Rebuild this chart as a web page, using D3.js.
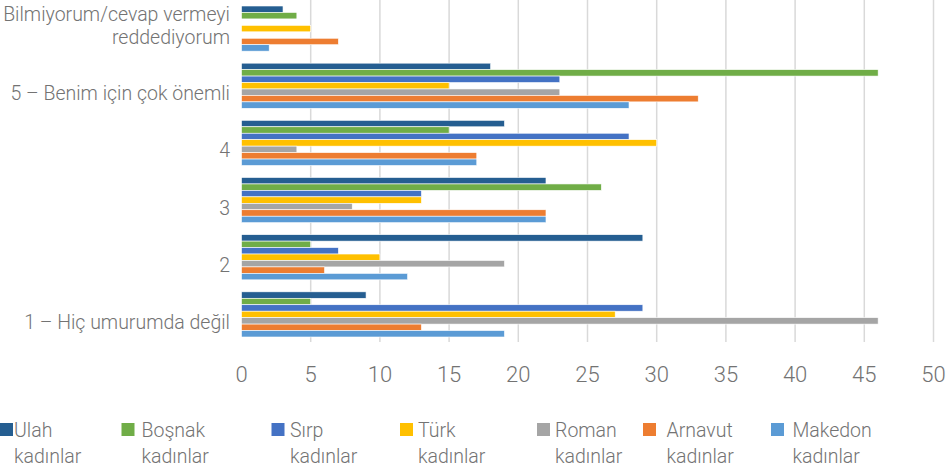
<!DOCTYPE html>
<meta charset="utf-8">
<style>
body { margin: 0; background: #fff; }
text { font-family: Roboto, sans-serif; font-weight: 300; fill: #737373; }
</style>
<svg width="950" height="470"></svg>
<script src="https://d3js.org/d3.v7.min.js"></script>
<script>

// categories, top to bottom
var categories = [
  "Bilmiyorum/cevap vermeyi reddediyorum",
  "5 – Benim için çok önemli",
  "4",
  "3",
  "2",
  "1 – Hiç umurumda değil"
];

var series = ["Ulah kadınlar", "Boşnak kadınlar", "Sırp kadınlar", "Türk kadınlar",
              "Roman kadınlar", "Arnavut kadınlar", "Makedon kadınlar"];

// values per series, same order as categories
var ulah    = [3, 18, 19, 22, 29, 9];
var bosnak  = [4, 46, 15, 26, 5, 5];
var sirp    = [0, 23, 28, 13, 7, 29];
var turk    = [5, 15, 30, 13, 10, 27];
var roman   = [0, 23, 4, 8, 19, 46];
var arnavut = [7, 33, 17, 22, 6, 13];
var makedon = [2, 28, 17, 22, 12, 19];

var xTicks = [0, 5, 10, 15, 20, 25, 30, 35, 40, 45, 50];

var colors = ["#255E91", "#70AD47", "#4472C4", "#FFC000", "#A5A5A5", "#ED7D31", "#5B9BD5"];

var values = [ulah, bosnak, sirp, turk, roman, arnavut, makedon];

var svg = d3.select("svg");

var x = d3.scaleLinear().domain([0, 50]).range([241.5, 933.5]);

var y = d3.scaleBand()
    .domain(categories)
    .range([0, 343])
    .paddingInner(0.21)
    .paddingOuter(0.105);

var ySub = d3.scaleBand()
    .domain(series)
    .range([0, y.bandwidth()]);

/************* GRID ***************/
svg.append("g")
  .selectAll("line")
  .data(xTicks.filter(function(d) { return d > 0; }))
  .enter().append("line")
    .attr("x1", function(d) { return x(d); })
    .attr("x2", function(d) { return x(d); })
    .attr("y1", 0)
    .attr("y2", 342)
    .attr("stroke", "#d9d9d9")
    .attr("stroke-width", 1.5);

/************* BARS ***************/
var rows = [];
categories.forEach(function(c, ci) {
  series.forEach(function(s, si) {
    rows.push({cat: c, ser: s, si: si, v: values[si][ci]});
  });
});

svg.append("g")
  .selectAll("rect")
  .data(rows.filter(function(d) { return d.v > 0; }))
  .enter().append("rect")
    .attr("x", x(0))
    .attr("y", function(d) { return y(d.cat) + ySub(d.ser); })
    .attr("width", function(d) { return x(d.v) - x(0); })
    .attr("height", ySub.bandwidth())
    .attr("fill", function(d) { return colors[d.si]; })
    .attr("stroke", "#fff")
    .attr("stroke-width", 0.6);

/************* CATEGORY LABELS ***************/
var catLabels = svg.append("g")
  .selectAll("text")
  .data(categories)
  .enter().append("text")
    .attr("text-anchor", "end")
    .attr("x", 230)
    .attr("y", function(d) { return y(d) + y.bandwidth() / 2; })
    .style("font-size", "19.5px");

catLabels.each(function(d) {
  var t = d3.select(this);
  if (d.indexOf("/") >= 0) {
    t.append("tspan").attr("x", 230).attr("dy", -7.5).text("Bilmiyorum/cevap vermeyi");
    t.append("tspan").attr("x", 230).attr("dy", 23).text("reddediyorum");
  } else {
    t.attr("dy", 14.5).text(d);
  }
});

/************* X AXIS LABELS ***************/
svg.append("g")
  .selectAll("text")
  .data(xTicks)
  .enter().append("text")
    .attr("text-anchor", "middle")
    .attr("x", function(d) { return x(d); })
    .attr("y", 382)
    .style("font-size", "22px")
    .text(function(d) { return d; });

/************* LEGEND ***************/
var legendSq = [0, 121.5, 271.5, 400, 537, 643, 771];
var legendTx = [14, 141.5, 290, 418, 555, 666.5, 792.5];

var legend = svg.append("g")
  .selectAll("g")
  .data(series)
  .enter().append("g");

legend.append("rect")
    .attr("x", function(d, i) { return legendSq[i]; })
    .attr("y", 423)
    .attr("width", 13)
    .attr("height", 13)
    .attr("fill", function(d, i) { return colors[i]; });

legend.append("text")
    .attr("x", function(d, i) { return legendTx[i]; })
    .attr("y", 437)
    .style("font-size", "19.5px")
    .text(function(d) { return d.split(" ")[0]; });

legend.append("text")
    .attr("x", function(d, i) { return legendTx[i]; })
    .attr("y", 463)
    .style("font-size", "19.5px")
    .text(function(d) { return d.split(" ")[1]; });

</script>
